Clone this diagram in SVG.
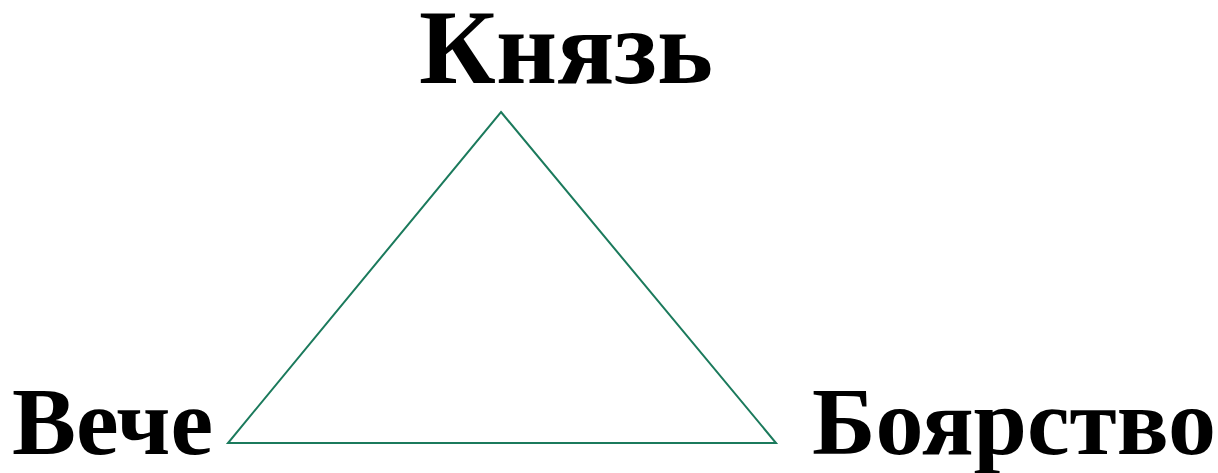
<svg xmlns="http://www.w3.org/2000/svg" width="1218" height="473" viewBox="0 0 1218 473">
<style>
.lbl{font-family:"Liberation Serif","Times New Roman",serif;font-weight:bold;font-size:96px;fill:#000}
.big{font-size:106px}
.edge{fill:none;stroke:#1b7a5c;stroke-width:2}
</style>
<rect width="1218" height="473" fill="#fff"/>
<g id="connectors">
<polygon class="edge" points="501,112 776,443 228,443"/>
</g>
<g id="node-knyaz"><text class="lbl big" x="566" y="83" text-anchor="middle">Князь</text></g>
<g id="node-veche"><text class="lbl" x="12" y="454">Вече</text></g>
<g id="node-boyarstvo"><text class="lbl" x="812" y="454">Боярство</text></g>
</svg>
